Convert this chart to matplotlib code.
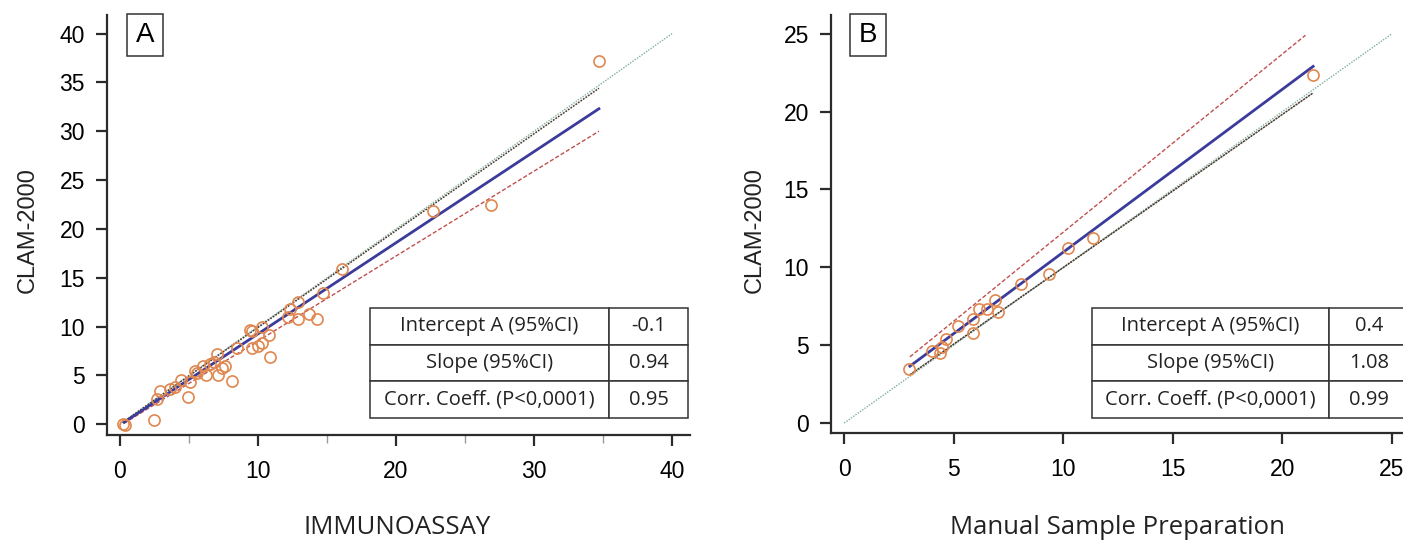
import numpy as np
import matplotlib.pyplot as plt
from matplotlib.ticker import MultipleLocator

# panel A: IMMUNOASSAY vs CLAM-2000
a_x = [0.2, 0.4, 2.5, 2.7, 2.9, 3.6, 4.0, 4.4, 4.9, 5.1, 5.4, 5.6, 6.0, 6.2, 6.5,
       6.8, 7.0, 7.1, 7.4, 7.6, 8.1, 8.5, 9.4, 9.6, 9.6, 10.0, 10.3, 10.3, 10.8,
       10.9, 12.2, 12.3, 12.9, 12.9, 13.7, 14.3, 14.7, 16.1, 22.7, 26.9, 34.7]
a_y = [0.0, -0.1, 0.4, 2.6, 3.4, 3.6, 3.8, 4.5, 2.8, 4.3, 5.5, 5.2, 6.0, 5.0, 6.2,
       6.4, 7.2, 5.0, 5.8, 6.0, 4.4, 7.8, 9.6, 9.5, 7.8, 8.0, 10.0, 8.3, 9.1,
       6.9, 11.0, 11.8, 12.5, 10.8, 11.3, 10.8, 13.4, 15.9, 21.8, 22.4, 37.2]
a_fit_x = [0.3, 34.7]
a_fit_y = [0.2, 32.3]
a_hi_x = [0.2, 34.7]
a_hi_y = [0.2, 34.4]
a_lo_x = [0.3, 34.7]
a_lo_y = [0.1, 30.0]
a_id = [0, 40]
a_table = [["Intercept A (95%CI)", "-0.1"],
           ["Slope (95%CI)", "0.94"],
           ["Corr. Coeff. (P<0,0001)", "0.95"]]

# panel B: manual sample preparation vs CLAM-2000
b_x = [2.98, 4.0, 4.38, 4.46, 4.64, 5.2, 5.86, 5.9, 6.16, 6.5, 6.9, 7.0, 8.08,
       9.36, 10.2, 11.35, 21.4]
b_y = [3.44, 4.6, 4.47, 4.9, 5.4, 6.2, 5.8, 6.7, 7.35, 7.35, 7.9, 7.1, 8.95,
       9.6, 11.26, 11.9, 22.35]
b_fit_x = [3.0, 21.4]
b_fit_y = [3.65, 22.9]
b_hi_x = [3.0, 21.05]
b_hi_y = [4.25, 24.9]
b_lo_x = [3.0, 21.4]
b_lo_y = [3.1, 21.2]
b_id = [0, 25]
b_table = [["Intercept A (95%CI)", "0.4"],
           ["Slope (95%CI)", "1.08"],
           ["Corr. Coeff. (P<0,0001)", "0.99"]]

TICK_FONT = "Liberation Sans"
TEXT_FONT = "Open Sans"
SPINE = "#2b2b2b"

fig = plt.figure(figsize=(14.03, 5.43), dpi=100)
axA = fig.add_axes([107 / 1403, 1 - 435 / 543, 583 / 1403, 420 / 543])
axB = fig.add_axes([831 / 1403, 1 - 433 / 543, 572 / 1403, 418 / 543])


def style_axes(ax, xlim, ylim, xmajor, ymajor, xminor=None):
    ax.set_xlim(*xlim)
    ax.set_ylim(*ylim)
    for s in ("top", "right"):
        ax.spines[s].set_visible(False)
    for s in ("left", "bottom"):
        ax.spines[s].set_color(SPINE)
        ax.spines[s].set_linewidth(1.6)
    ax.xaxis.set_major_locator(MultipleLocator(xmajor))
    ax.yaxis.set_major_locator(MultipleLocator(ymajor))
    if xminor:
        ax.xaxis.set_minor_locator(MultipleLocator(xminor))
        ax.tick_params(axis="x", which="minor", length=6, width=1.0,
                       color="#999999", direction="out")
    ax.tick_params(which="major", length=8, width=1.6, color=SPINE,
                   direction="out", labelsize=16.5, pad=8)
    ax.tick_params(axis="x", which="major", pad=10)
    for lab in ax.get_xticklabels() + ax.get_yticklabels():
        lab.set_fontfamily(TICK_FONT)


def draw_panel(ax, x, y, fx, fy, hx, hy, lx, ly, ident, hi_style, lo_style):
    ax.plot(ident, ident, color="#7fae9f", lw=1.0, ls=(0, (1, 1)), zorder=1)
    ax.plot(hx, hy, **hi_style, zorder=2)
    ax.plot(lx, ly, **lo_style, zorder=2)
    ax.plot(fx, fy, color="#3b3b9b", lw=2.0, zorder=3)
    ax.plot(x, y, ls="none", marker="o", ms=8, mfc="none", mec="#e0874f",
            mew=1.2, zorder=4)


def draw_table(ax, rows, bbox, col_w):
    tb = ax.table(cellText=rows, colWidths=col_w, cellLoc="center",
                  bbox=bbox, zorder=5)
    tb.auto_set_font_size(False)
    for cell in tb.get_celld().values():
        cell.set_edgecolor("#333333")
        cell.set_linewidth(1.1)
        cell.set_facecolor("white")
        cell.get_text().set_fontsize(14.5)
        cell.get_text().set_fontfamily(TEXT_FONT)
        cell.get_text().set_color("#222222")
    tb.set_clip_on(False)
    return tb


dark_dotted = dict(color="#4a3a2e", lw=1.1, ls=(0, (1.2, 0.8)))
red_dashed = dict(color="#c0504d", lw=1.0, ls=(0, (3, 1.5)))

draw_panel(axA, a_x, a_y, a_fit_x, a_fit_y, a_hi_x, a_hi_y, a_lo_x, a_lo_y,
           a_id, dark_dotted, red_dashed)
style_axes(axA, (-0.94, 41.3), (-1.1, 41.9), 10, 5, xminor=5)
draw_table(axA, a_table, [0.451, 0.0405, 0.5456, 0.2615], [239, 79])

draw_panel(axB, b_x, b_y, b_fit_x, b_fit_y, b_hi_x, b_hi_y, b_lo_x, b_lo_y,
           b_id, red_dashed, dict(color="#4a3a2e", lw=1.1, ls=(0, (1.5, 0.5))))
style_axes(axB, (-0.6, 25.5), (-0.64, 26.2), 5, 5)
draw_table(axB, b_table, [0.456, 0.036, 0.556, 0.263], [237, 81])

# panel letters in boxes
for cx, letter in ((145, "A"), (868, "B")):
    fig.text(cx / 1403, 1 - 35 / 543, letter, fontsize=20,
             fontfamily=TICK_FONT, ha="center", va="center",
             bbox=dict(boxstyle="square,pad=0.3", fc="white",
                       ec="#333333", lw=1.1))

# axis titles
fig.text(397 / 1403, 1 - 528 / 543, "IMMUNOASSAY", fontsize=18.5,
         fontfamily=TEXT_FONT, ha="center", va="center", color="#222222")
fig.text(1118 / 1403, 1 - 528 / 543, "Manual Sample Preparation", fontsize=18.5,
         fontfamily=TEXT_FONT, ha="center", va="center", color="#222222")
fig.text(28 / 1403, 1 - 230 / 543, "CLAM-2000", fontsize=17, rotation=90,
         fontfamily=TICK_FONT, ha="center", va="center", color="#222222")
fig.text(755 / 1403, 1 - 230 / 543, "CLAM-2000", fontsize=17, rotation=90,
         fontfamily=TICK_FONT, ha="center", va="center", color="#222222")

fig.savefig("out.png", dpi=100)
